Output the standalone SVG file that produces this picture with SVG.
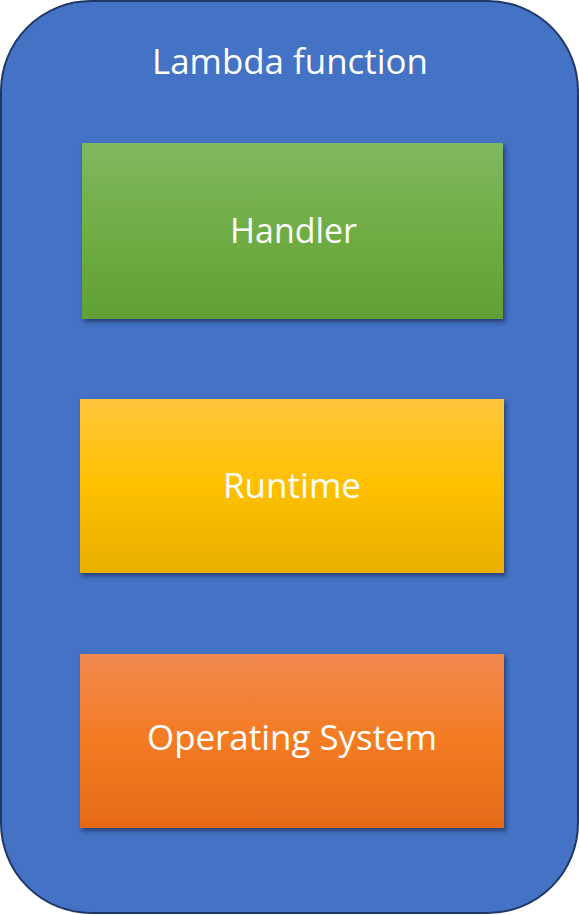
<svg xmlns="http://www.w3.org/2000/svg" width="579" height="915" viewBox="0 0 579 915">
  <style>
    .lbl { font-family: "Open Sans", "Liberation Sans", sans-serif; fill: #FFFFFF; font-size: 34px; }
  </style>
  <defs>
    <linearGradient id="gGreen" x1="0" y1="0" x2="0" y2="1">
      <stop offset="0" stop-color="#80B860"/>
      <stop offset="0.5" stop-color="#70AD45"/>
      <stop offset="1" stop-color="#61A035"/>
    </linearGradient>
    <linearGradient id="gYellow" x1="0" y1="0" x2="0" y2="1">
      <stop offset="0" stop-color="#FFC63D"/>
      <stop offset="0.5" stop-color="#FFC000"/>
      <stop offset="1" stop-color="#E8AF00"/>
    </linearGradient>
    <linearGradient id="gOrange" x1="0" y1="0" x2="0" y2="1">
      <stop offset="0" stop-color="#F1894F"/>
      <stop offset="0.5" stop-color="#F47B22"/>
      <stop offset="1" stop-color="#E56A18"/>
    </linearGradient>
    <filter id="shadow" x="-5%" y="-5%" width="115%" height="120%">
      <feDropShadow dx="2" dy="3" stdDeviation="2.2" flood-color="#14213f" flood-opacity="0.6"/>
    </filter>
  </defs>
  <g id="lambda">
    <rect x="1" y="1" width="577" height="912" rx="90" ry="90" fill="#4472C4" stroke="#1F3866" stroke-width="2"/>
    <text class="lbl" x="290" y="74" text-anchor="middle" textLength="276" lengthAdjust="spacingAndGlyphs">Lambda function</text>
  </g>
  <g id="connectors"></g>
  <g id="handler">
    <rect x="82" y="143" width="421" height="176" fill="url(#gGreen)" filter="url(#shadow)"/>
    <text class="lbl" x="293.5" y="243" text-anchor="middle" textLength="127" lengthAdjust="spacingAndGlyphs">Handler</text>
  </g>
  <g id="runtime">
    <rect x="80" y="399" width="424" height="174" fill="url(#gYellow)" filter="url(#shadow)"/>
    <text class="lbl" x="292" y="498" text-anchor="middle" textLength="138" lengthAdjust="spacingAndGlyphs">Runtime</text>
  </g>
  <g id="os">
    <rect x="80" y="654" width="424" height="174" fill="url(#gOrange)" filter="url(#shadow)"/>
    <text class="lbl" x="292" y="750" text-anchor="middle" textLength="290" lengthAdjust="spacingAndGlyphs">Operating System</text>
  </g>
</svg>
